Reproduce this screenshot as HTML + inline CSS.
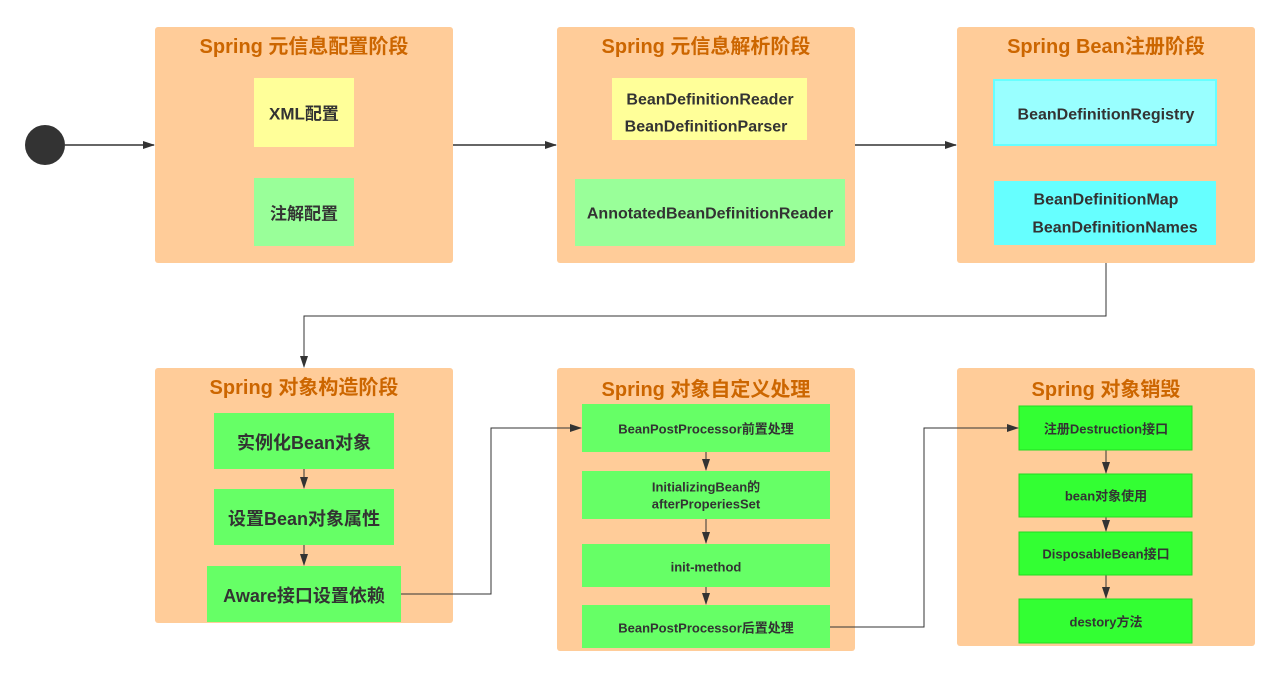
<!DOCTYPE html>
<html><head><meta charset="utf-8"><style>
html,body{margin:0;padding:0;background:#fff;width:1281px;height:678px;overflow:hidden}
svg{display:block}
text{font-family:"Liberation Sans","Noto Sans CJK SC",sans-serif;font-weight:bold;text-anchor:middle;dominant-baseline:central;fill:#333}
.t{fill:#cc6600;font-size:20px}
.m{font-size:16px}
.s{font-size:13px}
.c{fill:#ffcc99}
</style></head><body>
<svg width="1281" height="678" viewBox="0 0 1281 678">
<defs><marker id="a" markerWidth="12" markerHeight="10" refX="11" refY="4" orient="auto" markerUnits="userSpaceOnUse"><path d="M0,0 L12,4 L0,8 z" fill="#333"/></marker></defs>
<rect class="c" x="155" y="27" width="298" height="236" rx="3"/>
<rect class="c" x="557" y="27" width="298" height="236" rx="3"/>
<rect class="c" x="957" y="27" width="298" height="236" rx="3"/>
<rect class="c" x="155" y="368" width="298" height="255" rx="3"/>
<rect class="c" x="557" y="368" width="298" height="283" rx="3"/>
<rect class="c" x="957" y="368" width="298" height="278" rx="3"/>
<text class="t" x="304" y="47">Spring 元信息配置阶段</text>
<text class="t" x="706" y="47">Spring 元信息解析阶段</text>
<text class="t" x="1106" y="47">Spring Bean注册阶段</text>
<text class="t" x="304" y="388">Spring 对象构造阶段</text>
<text class="t" x="706" y="390">Spring 对象自定义处理</text>
<text class="t" x="1106" y="390">Spring 对象销毁</text>
<circle cx="45" cy="145" r="20" fill="#333"/>
<g stroke="#333" stroke-width="1.5" fill="none">
<line x1="65" y1="145" x2="154" y2="145" marker-end="url(#a)"/>
<line x1="453" y1="145" x2="556" y2="145" marker-end="url(#a)"/>
<line x1="855" y1="145" x2="956" y2="145" marker-end="url(#a)"/>
</g>
<g stroke="#333" stroke-width="1" fill="none">
<polyline points="1106,263 1106,316 304,316 304,367" marker-end="url(#a)"/>
<polyline points="401,594 491,594 491,428 581,428" marker-end="url(#a)"/>
<polyline points="830,627 924,627 924,428 1018,428" marker-end="url(#a)"/>
<line x1="304" y1="469" x2="304" y2="488" marker-end="url(#a)"/>
<line x1="304" y1="545" x2="304" y2="565" marker-end="url(#a)"/>
<line x1="706" y1="452" x2="706" y2="470" marker-end="url(#a)"/>
<line x1="706" y1="519" x2="706" y2="543" marker-end="url(#a)"/>
<line x1="706" y1="587" x2="706" y2="604" marker-end="url(#a)"/>
<line x1="1106" y1="450" x2="1106" y2="473" marker-end="url(#a)"/>
<line x1="1106" y1="517" x2="1106" y2="531" marker-end="url(#a)"/>
<line x1="1106" y1="575" x2="1106" y2="598" marker-end="url(#a)"/>
</g>
<rect x="254" y="78" width="100" height="69" fill="#ffff99"/>
<text class="m" x="304" y="114" style="font-size:17px">XML配置</text>
<rect x="254" y="178" width="100" height="68" fill="#99ff99"/>
<text class="m" x="304" y="214" style="font-size:17px">注解配置</text>
<rect x="612" y="78" width="195" height="62" fill="#ffff99"/>
<text class="m" x="710" y="100">BeanDefinitionReader</text>
<text class="m" x="706" y="127">BeanDefinitionParser</text>
<rect x="575" y="179" width="270" height="67" fill="#99ff99"/>
<text class="m" x="710" y="214">AnnotatedBeanDefinitionReader</text>
<rect x="994" y="80" width="222" height="65" fill="#99ffff" stroke="#66ffff" stroke-width="2"/>
<text class="m" x="1106" y="115">BeanDefinitionRegistry</text>
<rect x="994" y="181" width="222" height="64" fill="#66ffff"/>
<text class="m" x="1106" y="200">BeanDefinitionMap</text>
<text class="m" x="1115" y="228">BeanDefinitionNames</text>
<rect x="214" y="413" width="180" height="56" fill="#66ff66"/>
<text class="m" x="304" y="443" style="font-size:18px">实例化Bean对象</text>
<rect x="214" y="489" width="180" height="56" fill="#66ff66"/>
<text class="m" x="304" y="519" style="font-size:18px">设置Bean对象属性</text>
<rect x="207" y="566" width="194" height="56" fill="#66ff66"/>
<text class="m" x="304" y="596" style="font-size:18px">Aware接口设置依赖</text>
<rect x="582" y="404" width="248" height="48" fill="#66ff66"/>
<text class="s" x="706" y="429">BeanPostProcessor前置处理</text>
<rect x="582" y="471" width="248" height="48" fill="#66ff66"/>
<text class="s" x="706" y="487">InitializingBean的</text>
<text class="s" x="706" y="504">afterProperiesSet</text>
<rect x="582" y="544" width="248" height="43" fill="#66ff66"/>
<text class="s" x="706" y="567">init-method</text>
<rect x="582" y="605" width="248" height="43" fill="#66ff66"/>
<text class="s" x="706" y="628">BeanPostProcessor后置处理</text>
<g fill="#33ff33" stroke="#22dd22" stroke-width="1">
<rect x="1019" y="406" width="173" height="44"/>
<rect x="1019" y="474" width="173" height="43"/>
<rect x="1019" y="532" width="173" height="43"/>
<rect x="1019" y="599" width="173" height="44"/>
</g>
<text class="s" x="1106" y="429">注册Destruction接口</text>
<text class="s" x="1106" y="496">bean对象使用</text>
<text class="s" x="1106" y="554">DisposableBean接口</text>
<text class="s" x="1106" y="622">destory方法</text>
</svg>
</body></html>
